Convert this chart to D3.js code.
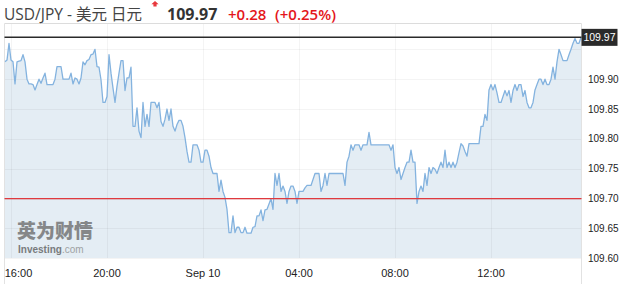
<!DOCTYPE html>
<html>
<head>
<meta charset="utf-8">
<script src="https://cdn.jsdelivr.net/npm/d3@7"></script>
<style>
  html, body { margin: 0; padding: 0; background: #fff; }
  svg { display: block; }
</style>
</head>
<body>
<div id="chart"></div>
<script>
// header texts
const pairName = "USD/JPY - 美元 日元";
const lastPrice = 109.97;
const changeText = "+0.28";
const changePctText = "(+0.25%)";
const prevClose = 109.70;

// 5 minute closes, starting Sep 9 15:45
const startTime = new Date(2021, 8, 9, 15, 45);
const stepMinutes = 5;
const prices = [
  109.929, 109.932, 109.960, 109.932, 109.929, 109.892, 109.929, 109.930, 109.931, 109.941,
  109.929, 109.900, 109.892, 109.892, 109.891, 109.882, 109.891, 109.900, 109.893, 109.902,
  109.910, 109.891, 109.891, 109.891, 109.891, 109.900, 109.921, 109.921, 109.921, 109.900,
  109.900, 109.900, 109.900, 109.910, 109.892, 109.902, 109.900, 109.892, 109.902, 109.929,
  109.924, 109.931, 109.933, 109.941, 109.942, 109.950, 109.921, 109.920, 109.899, 109.861,
  109.861, 109.871, 109.941, 109.910, 109.885, 109.861, 109.888, 109.910, 109.931, 109.931,
  109.881, 109.902, 109.902, 109.920, 109.821, 109.821, 109.852, 109.813, 109.802, 109.861,
  109.821, 109.841, 109.821, 109.861, 109.861, 109.861, 109.852, 109.861, 109.829, 109.821,
  109.833, 109.850, 109.831, 109.850, 109.821, 109.813, 109.824, 109.831, 109.831, 109.821,
  109.802, 109.779, 109.761, 109.761, 109.790, 109.790, 109.790, 109.781, 109.761, 109.761,
  109.781, 109.781, 109.771, 109.752, 109.742, 109.742, 109.742, 109.712, 109.731, 109.712,
  109.702, 109.682, 109.643, 109.643, 109.671, 109.643, 109.652, 109.652, 109.643, 109.643,
  109.652, 109.642, 109.642, 109.642, 109.652, 109.653, 109.671, 109.671, 109.681, 109.663,
  109.681, 109.682, 109.691, 109.700, 109.682, 109.742, 109.722, 109.742, 109.712, 109.721,
  109.712, 109.692, 109.712, 109.721, 109.721, 109.712, 109.692, 109.712, 109.712, 109.712,
  109.718, 109.722, 109.722, 109.722, 109.732, 109.742, 109.742, 109.742, 109.712, 109.722,
  109.742, 109.722, 109.742, 109.742, 109.742, 109.742, 109.742, 109.742, 109.742, 109.742,
  109.722, 109.761, 109.771, 109.790, 109.781, 109.790, 109.790, 109.790, 109.781, 109.790,
  109.790, 109.790, 109.811, 109.790, 109.790, 109.790, 109.790, 109.790, 109.790, 109.790,
  109.790, 109.790, 109.790, 109.781, 109.790, 109.752, 109.742, 109.752, 109.732, 109.742,
  109.752, 109.761, 109.761, 109.781, 109.761, 109.761, 109.692, 109.712, 109.721, 109.712,
  109.742, 109.722, 109.752, 109.742, 109.752, 109.749, 109.742, 109.752, 109.761, 109.752,
  109.781, 109.752, 109.761, 109.752, 109.761, 109.752, 109.761, 109.777, 109.792, 109.788,
  109.779, 109.771, 109.792, 109.792, 109.792, 109.792, 109.792, 109.792, 109.821, 109.821,
  109.841, 109.831, 109.882, 109.891, 109.882, 109.891, 109.877, 109.861, 109.861, 109.871,
  109.881, 109.872, 109.881, 109.861, 109.881, 109.891, 109.881, 109.891, 109.891, 109.871,
  109.881, 109.861, 109.852, 109.852, 109.861, 109.882, 109.891, 109.900, 109.900, 109.891,
  109.900, 109.891, 109.891, 109.900, 109.920, 109.900, 109.929, 109.950, 109.941, 109.931,
  109.931, 109.931, 109.941, 109.950, 109.960, 109.968, 109.960, 109.960, 109.970
];

// right axis labels (109.95 sits under the price box)
const yTickValues = [109.55, 109.60, 109.65, 109.70, 109.75, 109.80, 109.85, 109.90];
const yGridValues = [109.60, 109.65, 109.70, 109.75, 109.80, 109.85, 109.90, 109.95];

const width = 632, height = 284;
const plot = { left: 4.5, right: 581.5, top: 23.5, bottom: 258 };

const data = prices.map((v, i) => ({ t: d3.timeMinute.offset(startTime, i * stepMinutes), v: v }));

const x = d3.scaleTime()
  .domain([data[0].t, data[data.length - 1].t])
  .range([5, 581]);
const y = d3.scaleLinear()
  .domain([109.60, 109.95])
  .range([258.3, 49.3]);

const svg = d3.select("#chart").append("svg")
  .attr("width", width)
  .attr("height", height)
  .style("font-family", "'Liberation Sans', Arial, sans-serif");

svg.append("defs").append("clipPath").attr("id", "plotClip")
  .append("rect")
  .attr("x", plot.left).attr("y", plot.top)
  .attr("width", plot.right - plot.left).attr("height", plot.bottom - plot.top);

// area under the line
svg.append("path")
  .datum(data)
  .attr("clip-path", "url(#plotClip)")
  .attr("fill", "#e4edf4")
  .attr("d", d3.area().x(d => x(d.t)).y0(plot.bottom).y1(d => y(d.v)));

// grid
const xTicks = x.ticks(d3.timeHour.every(4));
svg.append("g")
  .selectAll("line")
  .data(xTicks)
  .join("line")
  .attr("x1", d => Math.round(x(d)) + 0.5).attr("x2", d => Math.round(x(d)) + 0.5)
  .attr("y1", plot.top).attr("y2", plot.bottom)
  .attr("stroke", "#000").attr("stroke-opacity", 0.045);
svg.append("g")
  .selectAll("line")
  .data(yGridValues)
  .join("line")
  .attr("x1", plot.left).attr("x2", plot.right)
  .attr("y1", d => Math.round(y(d)) + 0.5).attr("y2", d => Math.round(y(d)) + 0.5)
  .attr("stroke", "#000").attr("stroke-opacity", 0.045);

// frame
svg.append("line").attr("x1", plot.left).attr("x2", plot.right).attr("y1", plot.top).attr("y2", plot.top)
  .attr("stroke", "#dcdcdc");
svg.append("line").attr("x1", plot.left).attr("x2", plot.left).attr("y1", plot.top).attr("y2", height)
  .attr("stroke", "#e2e2e2");
svg.append("line").attr("x1", plot.right).attr("x2", plot.right).attr("y1", plot.top).attr("y2", height)
  .attr("stroke", "#e2e2e2");

// watermark
const wm = svg.append("g").attr("opacity", 0.75);
wm.append("text")
  .attr("x", 17).attr("y", 237.5)
  .attr("font-family", "'Noto Sans CJK SC', sans-serif")
  .attr("font-size", 19).attr("font-weight", 900)
  .attr("fill", "#666")
  .text("英为财情");
wm.append("text")
  .attr("x", 18).attr("y", 252.5)
  .attr("font-size", 10)
  .attr("fill", "#555")
  .call(t => {
    t.append("tspan").attr("font-weight", "bold").text("Investing");
    t.append("tspan").attr("fill", "#888").text(".com");
  });

// price line
svg.append("path")
  .datum(data)
  .attr("clip-path", "url(#plotClip)")
  .attr("fill", "none")
  .attr("stroke", "#84b3df")
  .attr("stroke-width", 1.3)
  .attr("stroke-linejoin", "round")
  .attr("d", d3.line().x(d => x(d.t)).y(d => y(d.v)));

// previous close
svg.append("line")
  .attr("x1", plot.left).attr("x2", plot.right)
  .attr("y1", y(prevClose)).attr("y2", y(prevClose))
  .attr("stroke", "#e0393e").attr("stroke-width", 1.2);

// last price line + box
svg.append("line")
  .attr("x1", plot.left).attr("x2", plot.right)
  .attr("y1", y(lastPrice)).attr("y2", y(lastPrice))
  .attr("stroke", "#2a2a2a").attr("stroke-width", 1.5);
svg.append("rect")
  .attr("x", plot.right).attr("y", y(lastPrice) - 8.5)
  .attr("width", 36).attr("height", 17)
  .attr("fill", "#2a2a2a");
svg.append("text")
  .attr("x", plot.right + 18).attr("y", y(lastPrice))
  .attr("dy", "0.35em")
  .attr("text-anchor", "middle")
  .attr("font-size", 10.5)
  .attr("fill", "#fff")
  .text(lastPrice.toFixed(2));

// right axis labels
svg.append("g")
  .selectAll("text")
  .data(yTickValues)
  .join("text")
  .attr("x", 588)
  .attr("y", d => y(d))
  .attr("dy", "0.35em")
  .attr("font-size", 10)
  .attr("fill", "#222")
  .text(d => d.toFixed(2));

// bottom axis labels
const fmt = d => d.getHours() === 0 ? d3.timeFormat("%b %d")(d) : d3.timeFormat("%H:%M")(d);
svg.append("g")
  .selectAll("text")
  .data(xTicks)
  .join("text")
  .attr("x", d => Math.max(x(d), 18.5))
  .attr("y", 277)
  .attr("text-anchor", "middle")
  .attr("font-size", 11)
  .attr("fill", "#222")
  .text(fmt);

// header
const head = svg.append("g").style("font-family", "'Open Sans', 'Noto Sans CJK SC', sans-serif");
head.append("text")
  .attr("x", 4).attr("y", 19.5)
  .attr("font-size", 15.5)
  .attr("fill", "#444")
  .text(pairName);
head.append("path")
  .attr("d", "M155,1 L158.6,4.2 L156.6,4.2 L156.6,6.6 L153.4,6.6 L153.4,4.2 L151.4,4.2 Z")
  .attr("fill", "#e8383d");
head.append("text")
  .attr("x", 167).attr("y", 20)
  .attr("font-size", 16).attr("font-weight", "bold")
  .attr("fill", "#333")
  .text(lastPrice.toFixed(2));
head.append("text")
  .attr("x", 228).attr("y", 20)
  .attr("font-size", 15)
  .attr("font-weight", 600)
  .attr("fill", "#e4161b")
  .text(changeText);
head.append("text")
  .attr("x", 275).attr("y", 20)
  .attr("font-size", 15)
  .attr("font-weight", 600)
  .attr("fill", "#e4161b")
  .text(changePctText);
</script>
</body>
</html>
